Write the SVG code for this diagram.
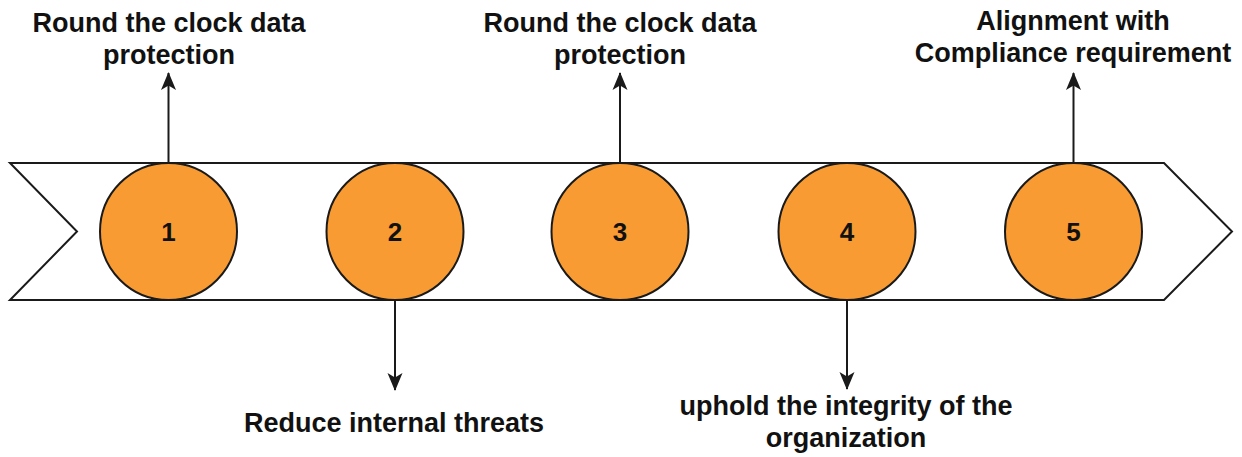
<svg xmlns="http://www.w3.org/2000/svg" width="1242" height="457" viewBox="0 0 1242 457">
  <style>
    .band { fill: #ffffff; stroke: #1a1a1a; stroke-width: 2; }
    .step { fill: #F99B33; stroke: #1a1a1a; stroke-width: 2; }
    .num { font-family: "Liberation Sans", Arial, sans-serif; font-weight: bold; font-size: 26px; fill: #111; text-anchor: middle; }
    .lbl { font-family: "Liberation Sans", Arial, sans-serif; font-weight: bold; font-size: 27px; fill: #111; text-anchor: middle; }
    .conn { stroke: #1a1a1a; stroke-width: 2; fill: none; marker-end: url(#arrow); }
  </style>
  <defs>
    <marker id="arrow" markerWidth="18" markerHeight="16" viewBox="0 0 18 16" refX="17" refY="8" orient="auto" markerUnits="userSpaceOnUse">
      <path d="M0,0.5 L18,8 L0,15.5 L4.5,8 Z" fill="#1a1a1a"/>
    </marker>
  </defs>

  <rect width="1242" height="457" fill="#ffffff"/>

  <!-- timeline band -->
  <g id="band">
    <polygon class="band" points="10,163 1164,163 1232,231.5 1164,300 10,300 77,231.5"/>
  </g>

  <!-- connectors -->
  <g id="connectors">
    <line class="conn" x1="168.5" y1="163" x2="168.5" y2="73"/>
    <line class="conn" x1="395" y1="300" x2="395" y2="390"/>
    <line class="conn" x1="620" y1="163" x2="620" y2="73"/>
    <line class="conn" x1="847" y1="300" x2="847" y2="389"/>
    <line class="conn" x1="1073.5" y1="163" x2="1073.5" y2="73"/>
  </g>

  <!-- steps -->
  <g id="step1">
    <circle class="step" cx="168.5" cy="231.5" r="68.5"/>
    <text class="num" x="168.5" y="241">1</text>
  </g>
  <g id="step2">
    <circle class="step" cx="395" cy="231.5" r="68.5"/>
    <text class="num" x="395" y="241">2</text>
  </g>
  <g id="step3">
    <circle class="step" cx="620" cy="231.5" r="68.5"/>
    <text class="num" x="620" y="241">3</text>
  </g>
  <g id="step4">
    <circle class="step" cx="847" cy="231.5" r="68.5"/>
    <text class="num" x="847" y="241">4</text>
  </g>
  <g id="step5">
    <circle class="step" cx="1073.5" cy="231.5" r="68.5"/>
    <text class="num" x="1073.5" y="241">5</text>
  </g>

  <!-- labels -->
  <g id="label1">
    <text class="lbl" x="169" y="32">Round the clock data</text>
    <text class="lbl" x="169" y="64">protection</text>
  </g>
  <g id="label2">
    <text class="lbl" x="394" y="432">Reduce internal threats</text>
  </g>
  <g id="label3">
    <text class="lbl" x="620" y="32">Round the clock data</text>
    <text class="lbl" x="620" y="64">protection</text>
  </g>
  <g id="label4">
    <text class="lbl" x="846" y="415">uphold the integrity of the</text>
    <text class="lbl" x="846" y="447">organization</text>
  </g>
  <g id="label5">
    <text class="lbl" x="1073" y="30">Alignment with</text>
    <text class="lbl" x="1073" y="62">Compliance requirement</text>
  </g>
</svg>
